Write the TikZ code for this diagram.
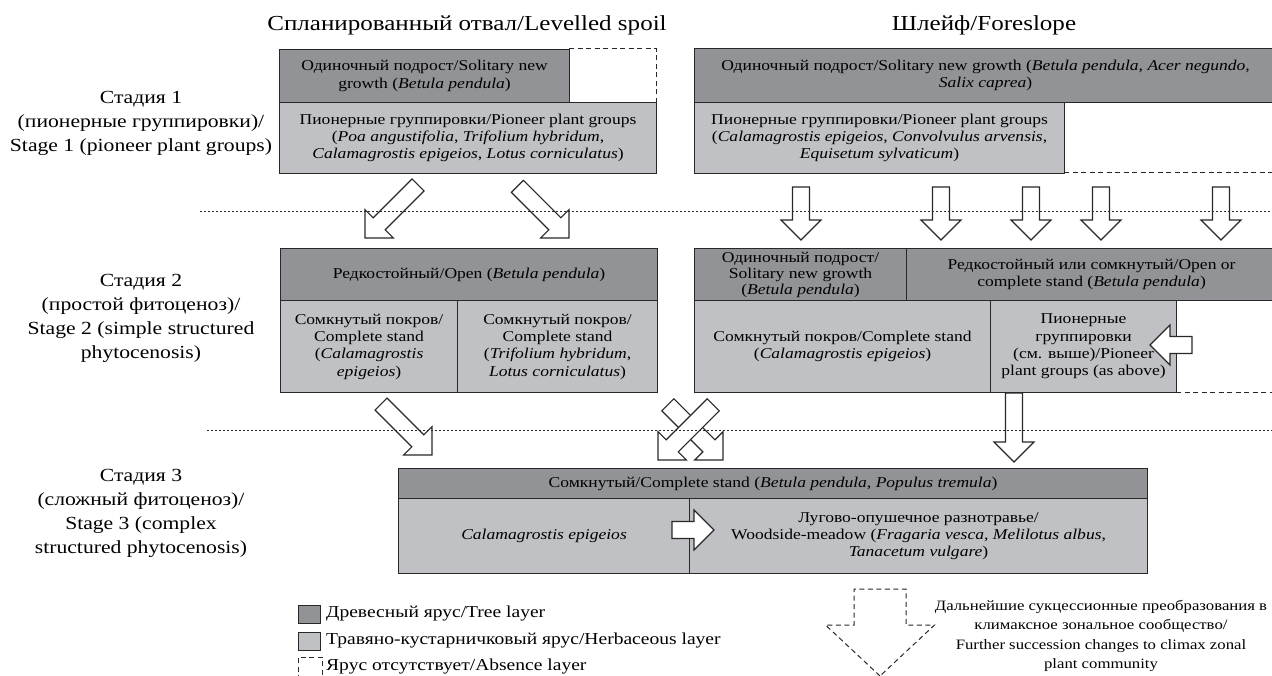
\documentclass[tikz,border=0pt]{standalone}
\usepackage{fontspec}
\setmainfont{Liberation Serif}[FakeStretch=1.17]
\definecolor{treeC}{RGB}{146,147,151}
\definecolor{herbC}{RGB}{192,193,197}
\definecolor{lineC}{RGB}{40,40,40}
\tikzset{
 cell/.style={draw=lineC, line width=1.1pt, anchor=north west, inner sep=1pt, align=center, font=\fontsize{15}{17.3}\selectfont},
 tree/.style={cell, fill=treeC},
 herb/.style={cell, fill=herbC},
 absent/.style={draw=lineC, line width=1pt, dash pattern=on 5pt off 3.5pt},
 sepline/.style={draw=lineC, line width=0.9pt, dash pattern=on 2pt off 2pt},
 barrowst/.style={draw=lineC, line width=1.1pt, fill=white, line join=miter},
 stage/.style={align=center, font=\fontsize{18.5}{24}\selectfont},
 heading/.style={font=\fontsize{21.4}{24}\selectfont},
 legtext/.style={anchor=west, font=\fontsize{16.7}{19}\selectfont, inner sep=0pt},
}
\newcommand\cellbox[7]{\node[#2, minimum width={#5-#3}, minimum height={#6-#4}] (#1) at (#3,#4) {#7};}
\newcommand\blockarrow[4][]{%
\begin{scope}[shift={#2}, rotate=#3]
\draw[barrowst,#1] (0,0) -- (-20,20) -- (-20,8.5) -- (-#4,8.5) -- (-#4,-8.5) -- (-20,-8.5) -- (-20,-20) -- cycle;
\end{scope}}
\begin{document}
\begin{tikzpicture}[x=1pt,y=-1pt]
\useasboundingbox (0,0) rectangle (1272,676);
\clip (0,0) rectangle (1272,676);
\fill[white] (0,0) rectangle (1272,676);

% headings
\node[heading] (h1) at (467,25) {Спланированный отвал/Levelled spoil};
\node[heading] (h2) at (984,25) {Шлейф/Foreslope};

% stage labels
\node[stage] (st1) at (141,123) {Стадия 1\\(пионерные группировки)/\\Stage 1 (pioneer plant groups)};
\node[stage] (st2) at (141,318) {Стадия 2\\(простой фитоценоз)/\\Stage 2 (simple structured\\phytocenosis)};
\node[stage] (st3) at (141,513) {Стадия 3\\(сложный фитоценоз)/\\Stage 3 (complex\\structured phytocenosis)};

% stage 1 left
\cellbox{a1}{tree}{279}{49}{569}{102}{Одиночный подрост/Solitary new\\growth (\textit{Betula pendula})}
\draw[absent] (569,49) -- (656,49) -- (656,102);
\cellbox{a2}{herb}{279}{102}{656}{173}{Пионерные группировки/Pioneer plant groups\\(\textit{Poa angustifolia}, \textit{Trifolium hybridum},\\\textit{Calamagrostis epigeios}, \textit{Lotus corniculatus})}

% stage 1 right
\cellbox{b1}{tree}{694}{48}{1276}{102}{Одиночный подрост/Solitary new growth (\textit{Betula pendula}, \textit{Acer negundo},\\\textit{Salix caprea})}
\cellbox{b2}{herb}{694}{102}{1064}{173}{Пионерные группировки/Pioneer plant groups\\(\textit{Calamagrostis epigeios}, \textit{Convolvulus arvensis},\\\textit{Equisetum sylvaticum})}
\draw[absent] (1064,173) -- (1276,173);

% stage 2 left
\cellbox{c1}{tree}{280}{248}{657}{300}{Редкостойный/Open (\textit{Betula pendula})}
\cellbox{c2}{herb}{280}{300}{457}{392}{Сомкнутый покров/\\Complete stand\\(\textit{Calamagrostis}\\\textit{epigeios})}
\cellbox{c3}{herb}{457}{300}{657}{392}{Сомкнутый покров/\\Complete stand\\(\textit{Trifolium hybridum},\\\textit{Lotus corniculatus})}

% stage 2 right
\cellbox{d1}{tree, font=\fontsize{15}{16}\selectfont}{694}{248}{906}{300}{Одиночный подрост/\\Solitary new growth\\(\textit{Betula pendula})}
\cellbox{d2}{tree}{906}{248}{1276}{300}{Редкостойный или сомкнутый/Open or\\complete stand (\textit{Betula pendula})}
\cellbox{d3}{herb}{694}{300}{990}{392}{Сомкнутый покров/Complete stand\\(\textit{Calamagrostis epigeios})}
\cellbox{d4}{herb}{990}{300}{1176}{392}{Пионерные\\группировки\\(см. выше)/Pioneer\\plant groups (as above)}
\draw[absent] (1176,392) -- (1276,392);

% stage 3
\cellbox{e1}{tree}{398}{468}{1147}{498}{Сомкнутый/Complete stand (\textit{Betula pendula}, \textit{Populus tremula})}
\cellbox{e2}{herb}{398}{498}{689}{573}{\textit{Calamagrostis epigeios}}
\cellbox{e3}{herb}{689}{498}{1147}{573}{Лугово-опушечное разнотравье/\\Woodside-meadow (\textit{Fragaria vesca}, \textit{Melilotus albus},\\\textit{Tanacetum vulgare})}

% arrows stage 1 -> 2
\blockarrow{(365,238)}{-135}{75}
\blockarrow{(569,238)}{-45}{73}
\blockarrow{(801,240)}{-90}{53}
\blockarrow{(941,240)}{-90}{53}
\blockarrow{(1031,240)}{-90}{53}
\blockarrow{(1101,240)}{-90}{53}
\blockarrow{(1221,240)}{-90}{53}

% inner arrows
\blockarrow{(1150,345)}{180}{42}
\blockarrow{(714,530)}{0}{42}

% arrows stage 2 -> 3
\blockarrow{(432,455)}{-45}{72}
\blockarrow{(723,460)}{-45}{78}
\blockarrow{(658,460)}{-135}{78}
\blockarrow{(1014,462)}{-90}{69}

% separators
\draw[sepline] (200,211) -- (1272,211);
\draw[sepline] (207,430) -- (1272,430);

% dashed arrow
\begin{scope}[shift={(880,676)}, rotate=-90]
\draw[absent, line join=miter] (0,0) -- (-51,54.5) -- (-51,26) -- (-87,26) -- (-87,-26) -- (-51,-26) -- (-51,-54.5) -- cycle;
\end{scope}
\node[align=center, font=\fontsize{14.3}{19.5}\selectfont] (note) at (1101,636) {Дальнейшие сукцессионные преобразования в\\климаксное зональное сообщество/\\Further succession changes to climax zonal\\plant community};

% legend
\node[draw=lineC, fill=treeC, line width=1pt, minimum width=22, minimum height=18, anchor=north west, inner sep=0pt] (lg1) at (298,605) {};
\node[legtext] (lt1) at (326,614) {Древесный ярус/Tree layer};
\node[draw=lineC, fill=herbC, line width=1pt, minimum width=22, minimum height=18, anchor=north west, inner sep=0pt] (lg2) at (298,632) {};
\node[legtext] (lt2) at (326,641) {Травяно-кустарничковый ярус/Herbaceous layer};
\draw[absent] (298,680) -- (298,657) -- (322,657) -- (322,680);
\node[legtext] (lt3) at (326,667) {Ярус отсутствует/Absence layer};
\end{tikzpicture}
\end{document}
